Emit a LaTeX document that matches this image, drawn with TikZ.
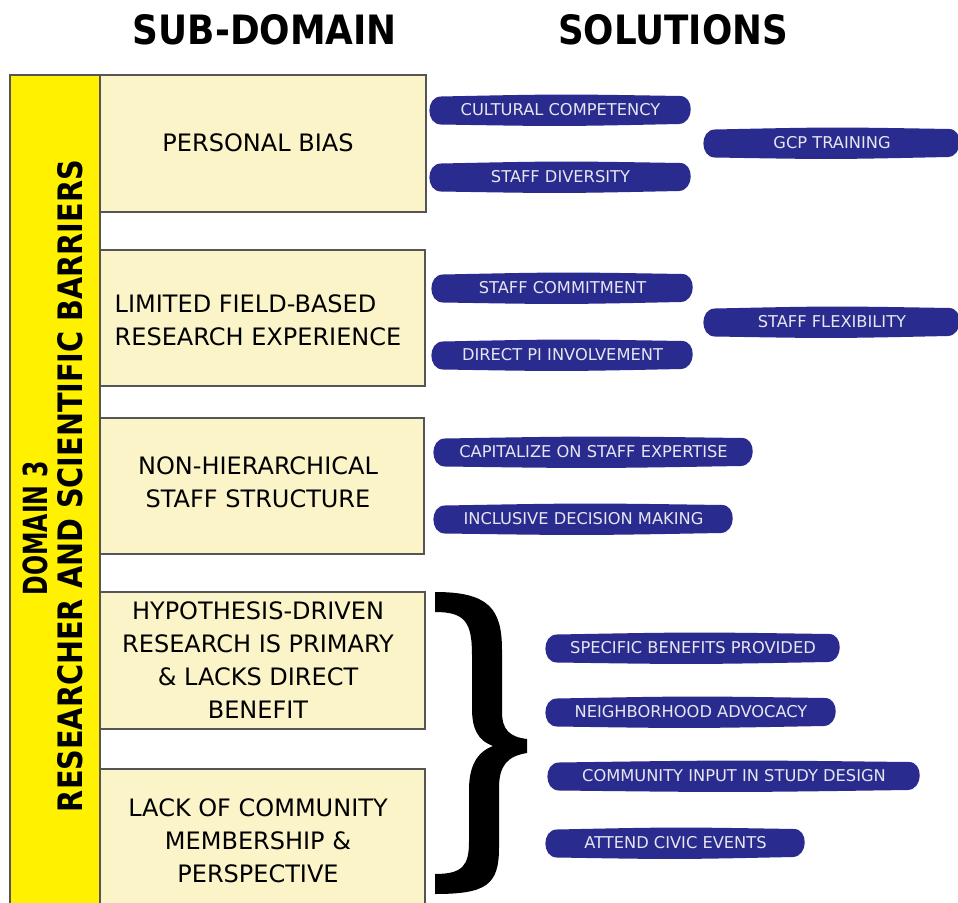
\documentclass[tikz,border=0pt]{standalone}
\usepackage{fontspec}
\usepackage{graphicx}
\setmainfont{DejaVu Sans}
\definecolor{domyellow}{HTML}{FFF100}
\definecolor{boxfill}{HTML}{FBF4C9}
\definecolor{boxline}{HTML}{555555}
\definecolor{pillblue}{HTML}{2A2B8E}
\definecolor{pillfont}{HTML}{E6E6F0}
\tikzset{
  subbox/.style={fill=boxfill, draw=boxline, line width=1.1pt},
  subtext/.style={font=\fontsize{18pt}{24.75pt}\selectfont, align=center, inner sep=0pt, text=black},
  pilltext/.style={font=\fontsize{12.2pt}{14pt}\selectfont, text=pillfont, inner sep=0pt},
  headtext/.style={inner sep=0pt, text=black},
}
\newcommand\solpill[5]{%
  \fill[pillblue] ({#2+13},{#4-13.5}) .. controls ({(#2+#3)/2},{#4-16}) .. ({#3-13},{#4-14})
    .. controls ({#3+1.5},{#4-14}) and ({#3+1.5},{#4+13}) .. ({#3-14},{#4+14})
    .. controls ({(#2+#3)/2},{#4+16.5}) .. ({#2+13},{#4+14.5})
    .. controls ({#2-2.5},{#4+14.5}) and ({#2-2.5},{#4-13.5}) .. cycle;
  \node[pilltext] (#1) at ({(#2+#3)/2},#4) {#5};
}
\begin{document}
\begin{tikzpicture}[x=0.75pt,y=-0.75pt]
\clip (0,0) rectangle (958,903);
\fill[white] (0,0) rectangle (958,903);

% headers
\node[headtext] (hsub) at (265,30) {\resizebox{198pt}{22.5pt}{\bfseries SUB-DOMAIN}};
\node[headtext] (hsol) at (673,30) {\resizebox{172.5pt}{22.5pt}{\bfseries SOLUTIONS}};

% domain bar
\draw[fill=domyellow, draw=boxline, line width=1.1pt] (10,75) rectangle (100,915);
\node[headtext, rotate=90] (dom) at (35,528) {\resizebox{101pt}{18.5pt}{\bfseries DOMAIN 3}};
\node[headtext, rotate=90] (domname) at (70,486) {\resizebox{489pt}{18.75pt}{\bfseries RESEARCHER AND SCIENTIFIC BARRIERS}};

% sub-domain boxes
\draw[subbox] (100,75) rectangle (426,212);
\node[subtext] (b1) at (258,143) {PERSONAL BIAS};
\draw[subbox] (100,250) rectangle (425,386);
\node[subtext, align=left] (b2) at (258,320) {LIMITED FIELD-BASED\\RESEARCH EXPERIENCE};
\draw[subbox] (100,418) rectangle (424,554);
\node[subtext] (b3) at (258,482) {NON-HIERARCHICAL\\STAFF STRUCTURE};
\draw[subbox] (100,592) rectangle (425,729);
\node[subtext] (b4) at (258,660) {HYPOTHESIS-DRIVEN\\RESEARCH IS PRIMARY\\\& LACKS DIRECT\\BENEFIT};
\draw[subbox] (100,769) rectangle (425,915);
\node[subtext] (b5) at (258,841) {LACK OF COMMUNITY\\MEMBERSHIP \&\\PERSPECTIVE};

% solutions
\solpill{s1}{428}{693}{110}{CULTURAL COMPETENCY}
\solpill{s2}{428}{693}{177}{STAFF DIVERSITY}
\solpill{s3}{702}{962}{143}{GCP TRAINING}
\solpill{s4}{430}{695}{288}{STAFF COMMITMENT}
\solpill{s5}{702}{962}{322}{STAFF FLEXIBILITY}
\solpill{s6}{430}{695}{355}{DIRECT PI INVOLVEMENT}
\solpill{s7}{432}{755}{452}{CAPITALIZE ON STAFF EXPERTISE}
\solpill{s8}{432}{735}{519}{INCLUSIVE DECISION MAKING}
\solpill{s9}{544}{842}{648}{SPECIFIC BENEFITS PROVIDED}
\solpill{s10}{544}{838}{712}{NEIGHBORHOOD ADVOCACY}
\solpill{s11}{546}{922}{776}{COMMUNITY INPUT IN STUDY DESIGN}
\solpill{s12}{544}{807}{843}{ATTEND CIVIC EVENTS}

% brace
\fill[black] (435,592) .. controls (488,592) and (502,608) .. (502,650)
  -- (502,712) .. controls (502,730) and (510,737) .. (527,739)
  -- (527,753) .. controls (508,756) and (499,765) .. (499,788)
  -- (499,848) .. controls (499,885) and (486,894) .. (435,894)
  -- (435,874) .. controls (462,874) and (469,866) .. (469,842)
  -- (469,790) .. controls (469,766) and (477,752) .. (493,746)
  .. controls (477,740) and (472,728) .. (472,708)
  -- (472,655) .. controls (472,622) and (465,612) .. (435,612) -- cycle;
\end{tikzpicture}
\end{document}
